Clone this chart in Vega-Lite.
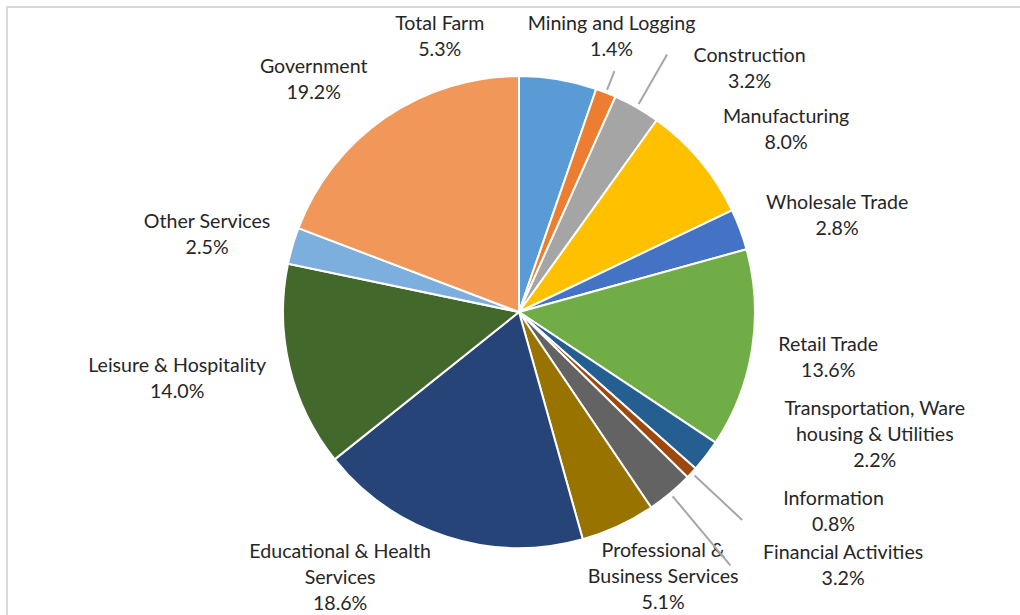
{
  "$schema": "https://vega.github.io/schema/vega-lite/v6.json",
  "width": 1024,
  "height": 610,
  "autosize": {"type": "none"},
  "padding": {"left": 7, "top": 7, "right": 0, "bottom": 0},
  "background": "white",
  "view": {"stroke": "#D9D9D9", "strokeWidth": 2},
  "config": {
    "view": {"stroke": "#D9D9D9", "strokeWidth": 2},
    "text": {"font": "Lato", "fontSize": 19.6, "fill": "#262626", "lineHeight": 26, "align": "center", "baseline": "middle", "lineBreak": "\n"}
  },
  "data": {
    "values": [
      {"rank": 1, "sector": "Total Farm", "share": 5.3, "label": "Total Farm\n5.3%"},
      {"rank": 2, "sector": "Mining and Logging", "share": 1.4, "label": "Mining and Logging\n1.4%"},
      {"rank": 3, "sector": "Construction", "share": 3.2, "label": "Construction\n3.2%"},
      {"rank": 4, "sector": "Manufacturing", "share": 8.0, "label": "Manufacturing\n8.0%"},
      {"rank": 5, "sector": "Wholesale Trade", "share": 2.8, "label": "Wholesale Trade\n2.8%"},
      {"rank": 6, "sector": "Retail Trade", "share": 13.6, "label": "Retail Trade\n13.6%"},
      {"rank": 7, "sector": "Transportation, Warehousing & Utilities", "share": 2.2, "label": "Transportation, Ware\nhousing & Utilities\n2.2%"},
      {"rank": 8, "sector": "Information", "share": 0.8, "label": "Information\n0.8%"},
      {"rank": 9, "sector": "Financial Activities", "share": 3.2, "label": "Financial Activities\n3.2%"},
      {"rank": 10, "sector": "Professional & Business Services", "share": 5.1, "label": "Professional &\nBusiness Services\n5.1%"},
      {"rank": 11, "sector": "Educational & Health Services", "share": 18.6, "label": "Educational & Health\nServices\n18.6%"},
      {"rank": 12, "sector": "Leisure & Hospitality", "share": 14.0, "label": "Leisure & Hospitality\n14.0%"},
      {"rank": 13, "sector": "Other Services", "share": 2.5, "label": "Other Services\n2.5%"},
      {"rank": 14, "sector": "Government", "share": 19.2, "label": "Government\n19.2%"}
    ]
  },
  "layer": [
    {
      "encoding": {
        "theta": {"field": "share", "type": "quantitative", "stack": true},
        "order": {"field": "rank", "type": "quantitative"},
        "detail": {"field": "sector", "type": "nominal"}
      },
      "layer": [
        {
          "mark": {"type": "arc", "outerRadius": 236, "stroke": "white", "strokeWidth": 2},
          "encoding": {
            "color": {
              "field": "sector", "type": "nominal", "legend": null,
              "scale": {
                "domain": ["Total Farm", "Mining and Logging", "Construction", "Manufacturing", "Wholesale Trade", "Retail Trade", "Transportation, Warehousing & Utilities", "Information", "Financial Activities", "Professional & Business Services", "Educational & Health Services", "Leisure & Hospitality", "Other Services", "Government"],
                "range": ["#5B9BD5", "#ED7D31", "#A5A5A5", "#FFC000", "#4472C4", "#70AD47", "#255E91", "#9E480E", "#636363", "#997300", "#264478", "#43682B", "#7CAFDD", "#F1975A"]
              }
            }
          }
        },
        {"mark": {"type": "text", "radius": 300, "dx": -129, "dy": 8}, "encoding": {"text": {"condition": {"test": "datum.sector === 'Total Farm'", "field": "label"}, "value": ""}}},
        {"mark": {"type": "text", "radius": 300, "dx": -18, "dy": -9}, "encoding": {"text": {"condition": {"test": "datum.sector === 'Mining and Logging'", "field": "label"}, "value": ""}}},
        {"mark": {"type": "text", "radius": 300, "dx": 81, "dy": 4}, "encoding": {"text": {"condition": {"test": "datum.sector === 'Construction'", "field": "label"}, "value": ""}}},
        {"mark": {"type": "text", "radius": 300, "dx": 37, "dy": -3}, "encoding": {"text": {"condition": {"test": "datum.sector === 'Manufacturing'", "field": "label"}, "value": ""}}},
        {"mark": {"type": "text", "radius": 300, "dx": 37, "dy": -4}, "encoding": {"text": {"condition": {"test": "datum.sector === 'Wholesale Trade'", "field": "label"}, "value": ""}}},
        {"mark": {"type": "text", "radius": 300, "dx": 13, "dy": -14}, "encoding": {"text": {"condition": {"test": "datum.sector === 'Retail Trade'", "field": "label"}, "value": ""}}},
        {"mark": {"type": "text", "radius": 300, "dx": 118, "dy": -86}, "encoding": {"text": {"condition": {"test": "datum.sector === 'Transportation, Warehousing & Utilities'", "field": "label"}, "value": ""}}},
        {"mark": {"type": "text", "radius": 300, "dx": 95, "dy": -17}, "encoding": {"text": {"condition": {"test": "datum.sector === 'Information'", "field": "label"}, "value": ""}}},
        {"mark": {"type": "text", "radius": 300, "dx": 132, "dy": 11}, "encoding": {"text": {"condition": {"test": "datum.sector === 'Financial Activities'", "field": "label"}, "value": ""}}},
        {"mark": {"type": "text", "radius": 300, "dx": 18, "dy": -33}, "encoding": {"text": {"condition": {"test": "datum.sector === 'Professional & Business Services'", "field": "label"}, "value": ""}}},
        {"mark": {"type": "text", "radius": 300, "dx": -87, "dy": -46}, "encoding": {"text": {"condition": {"test": "datum.sector === 'Educational & Health Services'", "field": "label"}, "value": ""}}},
        {"mark": {"type": "text", "radius": 300, "dx": -50, "dy": -16}, "encoding": {"text": {"condition": {"test": "datum.sector === 'Leisure & Hospitality'", "field": "label"}, "value": ""}}},
        {"mark": {"type": "text", "radius": 300, "dx": -24, "dy": -6}, "encoding": {"text": {"condition": {"test": "datum.sector === 'Other Services'", "field": "label"}, "value": ""}}},
        {"mark": {"type": "text", "radius": 300, "dx": -35, "dy": 2}, "encoding": {"text": {"condition": {"test": "datum.sector === 'Government'", "field": "label"}, "value": ""}}}
      ]
    },
    {
      "transform": [
        {"stack": "share", "groupby": [], "sort": [{"field": "rank", "order": "ascending"}], "as": ["s0", "s1"]},
        {"fold": ["s0", "s1"], "as": ["edgeKind", "edge"]},
        {"aggregate": [{"op": "mean", "field": "edge", "as": "mid"}], "groupby": ["sector"]},
        {"filter": {"field": "sector", "equal": "Mining and Logging"}}
      ],
      "mark": {"type": "arc", "filled": false, "innerRadius": 239, "outerRadius": 259, "stroke": "#A6A6A6", "strokeWidth": 2},
      "encoding": {"theta": {"field": "mid", "type": "quantitative", "stack": null}, "theta2": {"field": "mid"}}
    },
    {
      "transform": [
        {"stack": "share", "groupby": [], "sort": [{"field": "rank", "order": "ascending"}], "as": ["s0", "s1"]},
        {"fold": ["s0", "s1"], "as": ["edgeKind", "edge"]},
        {"aggregate": [{"op": "mean", "field": "edge", "as": "mid"}], "groupby": ["sector"]},
        {"filter": {"field": "sector", "equal": "Construction"}}
      ],
      "mark": {"type": "arc", "filled": false, "innerRadius": 240, "outerRadius": 297, "stroke": "#A6A6A6", "strokeWidth": 2},
      "encoding": {"theta": {"field": "mid", "type": "quantitative", "stack": null}, "theta2": {"field": "mid"}}
    },
    {
      "transform": [
        {"stack": "share", "groupby": [], "sort": [{"field": "rank", "order": "ascending"}], "as": ["s0", "s1"]},
        {"fold": ["s0", "s1"], "as": ["edgeKind", "edge"]},
        {"aggregate": [{"op": "mean", "field": "edge", "as": "mid"}], "groupby": ["sector"]},
        {"filter": {"field": "sector", "equal": "Information"}}
      ],
      "mark": {"type": "arc", "filled": false, "innerRadius": 240, "outerRadius": 305, "stroke": "#A6A6A6", "strokeWidth": 2},
      "encoding": {"theta": {"field": "mid", "type": "quantitative", "stack": null}, "theta2": {"field": "mid"}}
    },
    {
      "transform": [
        {"stack": "share", "groupby": [], "sort": [{"field": "rank", "order": "ascending"}], "as": ["s0", "s1"]},
        {"fold": ["s0", "s1"], "as": ["edgeKind", "edge"]},
        {"aggregate": [{"op": "mean", "field": "edge", "as": "mid"}], "groupby": ["sector"]},
        {"filter": {"field": "sector", "equal": "Financial Activities"}}
      ],
      "mark": {"type": "arc", "filled": false, "innerRadius": 240, "outerRadius": 330, "stroke": "#A6A6A6", "strokeWidth": 2},
      "encoding": {"theta": {"field": "mid", "type": "quantitative", "stack": null}, "theta2": {"field": "mid"}}
    }
  ]
}
